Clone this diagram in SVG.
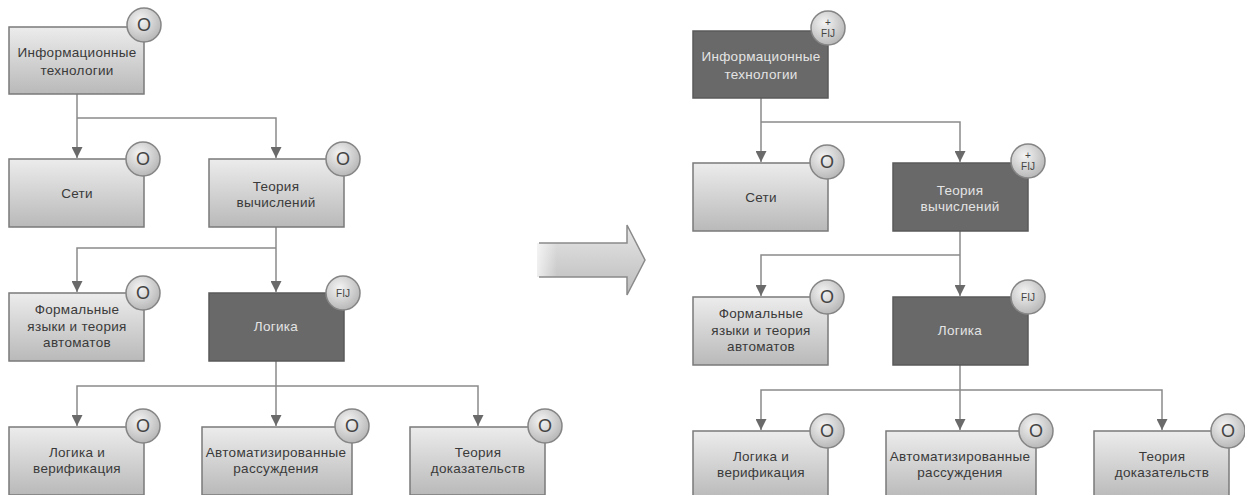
<svg xmlns="http://www.w3.org/2000/svg" width="1245" height="495" viewBox="0 0 1245 495">
<defs>
<linearGradient id="gLight" x1="0" y1="0" x2="0" y2="1">
<stop offset="0" stop-color="#ececec"/>
<stop offset="1" stop-color="#b9b9b9"/>
</linearGradient>
<radialGradient id="gCirc" cx="0.4" cy="0.35" r="0.7">
<stop offset="0" stop-color="#f4f4f4"/>
<stop offset="1" stop-color="#b4b4b4"/>
</radialGradient>
<linearGradient id="gArrow" x1="0" y1="0" x2="0" y2="1">
<stop offset="0" stop-color="#e6e6e6"/>
<stop offset="1" stop-color="#bcbcbc"/>
</linearGradient>
<linearGradient id="gFade" x1="0" y1="0" x2="1" y2="0">
<stop offset="0" stop-color="#ffffff" stop-opacity="0.7"/>
<stop offset="1" stop-color="#ffffff" stop-opacity="0"/>
</linearGradient>
<marker id="ah" viewBox="0 0 10 10" refX="10" refY="5" markerWidth="11" markerHeight="11" markerUnits="userSpaceOnUse" orient="auto">
<path d="M0,0 L10,5 L0,10 Z" fill="#6a6a6a"/>
</marker>
</defs>
<style>
.lt{fill:url(#gLight);stroke:#7a7a7a;stroke-width:1.5}
.dk{fill:#696969;stroke:#5a5a5a;stroke-width:1.5}
.bd{fill:url(#gCirc);stroke:#858585;stroke-width:1.5}
.t{font-family:"Liberation Sans",Arial,sans-serif;font-size:13.5px;letter-spacing:0.3px;fill:#3a3a3a;text-anchor:middle}
.tw{font-family:"Liberation Sans",Arial,sans-serif;font-size:13.5px;letter-spacing:0.3px;fill:#e4e4e4;text-anchor:middle}
.bo{font-family:"Liberation Sans",Arial,sans-serif;font-size:18px;fill:#444;text-anchor:middle}
.bf{font-family:"Liberation Sans",Arial,sans-serif;font-size:10px;fill:#444;text-anchor:middle}
.c{fill:none;stroke:#8a8a8a;stroke-width:1.5}
</style>
<rect width="1245" height="495" fill="#ffffff"/>

<g id="left">
<g id="connectors-left">
<path class="c" d="M77,94 V158" marker-end="url(#ah)"/>
<path class="c" d="M77,118 H276 V158" marker-end="url(#ah)"/>
<path class="c" d="M276,227 V292" marker-end="url(#ah)"/>
<path class="c" d="M276,248 H77 V292" marker-end="url(#ah)"/>
<path class="c" d="M276,361 V426" marker-end="url(#ah)"/>
<path class="c" d="M276,386 H77 V426" marker-end="url(#ah)"/>
<path class="c" d="M276,386 H478 V426" marker-end="url(#ah)"/>
</g>
<g id="L-info">
<rect class="lt" x="9" y="27" width="135" height="67"/>
<text class="t" x="77" y="57">Информационные</text>
<text class="t" x="77" y="75">технологии</text>
<circle class="bd" cx="144" cy="25" r="17"/>
<text class="bo" x="144" y="31">O</text>
</g>
<g id="L-seti">
<rect class="lt" x="9" y="159" width="135" height="68"/>
<text class="t" x="77" y="198">Сети</text>
<circle class="bd" cx="143" cy="159" r="17"/>
<text class="bo" x="143" y="165">O</text>
</g>
<g id="L-teoriya">
<rect class="lt" x="209" y="159" width="135" height="68"/>
<text class="t" x="276" y="191">Теория</text>
<text class="t" x="276" y="207">вычислений</text>
<circle class="bd" cx="343" cy="159" r="17"/>
<text class="bo" x="343" y="165">O</text>
</g>
<g id="L-formal">
<rect class="lt" x="9" y="293" width="135" height="68"/>
<text class="t" x="77" y="314">Формальные</text>
<text class="t" x="77" y="331">языки и теория</text>
<text class="t" x="77" y="347">автоматов</text>
<circle class="bd" cx="143" cy="293" r="17"/>
<text class="bo" x="143" y="299">O</text>
</g>
<g id="L-logika">
<rect class="dk" x="209" y="293" width="135" height="68"/>
<text class="tw" x="276" y="331">Логика</text>
<circle class="bd" cx="343" cy="293" r="17"/>
<text class="bf" x="343" y="297">FIJ</text>
</g>
<g id="L-logver">
<rect class="lt" x="9" y="427" width="135" height="68"/>
<text class="t" x="77" y="457">Логика и</text>
<text class="t" x="77" y="473">верификация</text>
<circle class="bd" cx="143" cy="426" r="17"/>
<text class="bo" x="143" y="432">O</text>
</g>
<g id="L-avto">
<rect class="lt" x="202" y="427" width="150" height="68"/>
<text class="t" x="276" y="457">Автоматизированные</text>
<text class="t" x="276" y="473">рассуждения</text>
<circle class="bd" cx="352" cy="426" r="17"/>
<text class="bo" x="352" y="432">O</text>
</g>
<g id="L-dokaz">
<rect class="lt" x="410" y="427" width="135" height="68"/>
<text class="t" x="478" y="457">Теория</text>
<text class="t" x="478" y="473">доказательств</text>
<circle class="bd" cx="545" cy="426" r="17"/>
<text class="bo" x="545" y="432">O</text>
</g>
</g>

<g id="big-arrow">
<path d="M537,243 L627,243 L627,225 L645,260 L627,295 L627,277 L537,277 Z" fill="url(#gArrow)"/>
<rect x="537" y="243" width="20" height="34" fill="url(#gFade)"/>
<polyline points="539,243 627,243 627,225 645,260 627,295 627,277 539,277" fill="none" stroke="#8a8a8a" stroke-width="1.5"/>
</g>

<g id="right" transform="translate(684,4)">
<g id="connectors-right">
<path class="c" d="M77,94 V158" marker-end="url(#ah)"/>
<path class="c" d="M77,118 H276 V158" marker-end="url(#ah)"/>
<path class="c" d="M276,227 V292" marker-end="url(#ah)"/>
<path class="c" d="M276,251 H77 V292" marker-end="url(#ah)"/>
<path class="c" d="M276,361 V426" marker-end="url(#ah)"/>
<path class="c" d="M276,386 H77 V426" marker-end="url(#ah)"/>
<path class="c" d="M276,386 H478 V426" marker-end="url(#ah)"/>
</g>
<g id="R-info">
<rect class="dk" x="9" y="27" width="135" height="67"/>
<text class="tw" x="77" y="57">Информационные</text>
<text class="tw" x="77" y="75">технологии</text>
<circle class="bd" cx="144" cy="24" r="17"/>
<text class="bf" x="144" y="22">+</text>
<text class="bf" x="144" y="33">FIJ</text>
</g>
<g id="R-seti">
<rect class="lt" x="9" y="159" width="135" height="68"/>
<text class="t" x="77" y="198">Сети</text>
<circle class="bd" cx="143" cy="158" r="17"/>
<text class="bo" x="143" y="164">O</text>
</g>
<g id="R-teoriya">
<rect class="dk" x="209" y="159" width="135" height="68"/>
<text class="tw" x="276" y="191">Теория</text>
<text class="tw" x="276" y="207">вычислений</text>
<circle class="bd" cx="344" cy="157" r="17"/>
<text class="bf" x="344" y="155">+</text>
<text class="bf" x="344" y="166">FIJ</text>
</g>
<g id="R-formal">
<rect class="lt" x="9" y="293" width="135" height="68"/>
<text class="t" x="77" y="314">Формальные</text>
<text class="t" x="77" y="331">языки и теория</text>
<text class="t" x="77" y="347">автоматов</text>
<circle class="bd" cx="143" cy="293" r="17"/>
<text class="bo" x="143" y="299">O</text>
</g>
<g id="R-logika">
<rect class="dk" x="209" y="293" width="135" height="68"/>
<text class="tw" x="276" y="331">Логика</text>
<circle class="bd" cx="344" cy="293" r="17"/>
<text class="bf" x="344" y="297">FIJ</text>
</g>
<g id="R-logver">
<rect class="lt" x="9" y="427" width="135" height="68"/>
<text class="t" x="77" y="457">Логика и</text>
<text class="t" x="77" y="473">верификация</text>
<circle class="bd" cx="143" cy="427" r="17"/>
<text class="bo" x="143" y="433">O</text>
</g>
<g id="R-avto">
<rect class="lt" x="202" y="427" width="150" height="68"/>
<text class="t" x="276" y="457">Автоматизированные</text>
<text class="t" x="276" y="473">рассуждения</text>
<circle class="bd" cx="352" cy="427" r="17"/>
<text class="bo" x="352" y="433">O</text>
</g>
<g id="R-dokaz">
<rect class="lt" x="410" y="427" width="135" height="68"/>
<text class="t" x="478" y="457">Теория</text>
<text class="t" x="478" y="473">доказательств</text>
<circle class="bd" cx="544" cy="427" r="17"/>
<text class="bo" x="544" y="433">O</text>
</g>
</g>
</svg>
